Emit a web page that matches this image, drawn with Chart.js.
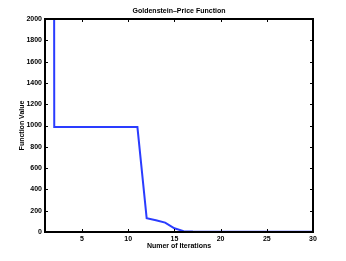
<!DOCTYPE html>
<html>
<head>
<meta charset="utf-8">
<script src="https://cdn.jsdelivr.net/npm/chart.js@4"></script>
<style>
  html, body { margin: 0; padding: 0; background: #fff; }
  #wrap { width: 346px; height: 261px; }
</style>
</head>
<body>
<div id="wrap"><canvas id="FirstChart" width="346" height="261"></canvas></div>
<script>
// data
let iterations = [1, 2, 3, 4, 5, 6, 7, 8, 9, 10, 11, 12, 13, 14, 15, 16, 17, 18, 19, 20, 21, 22, 23, 24, 25, 26, 27, 28, 29, 30];
let values = [100000, 985, 985, 985, 985, 985, 985, 985, 985, 985, 985, 130, 110, 88, 35, 8, 4, 3, 3, 3, 3, 3, 3, 3, 3, 3, 3, 3, 3, 3];
let xTicks = [5, 10, 15, 20, 25, 30];
let yTicks = [0, 200, 400, 600, 800, 1000, 1200, 1400, 1600, 1800, 2000];

let titre = 'Goldenstein\u2013Price Function';
let labelX = 'Numer of Iterations';
let labelY = 'Function Value';

const police = '"Liberation Sans", Arial, Helvetica, sans-serif';

// ticks vers l'intérieur + cadre + titres
const cadre = {
  id: 'cadre',
  afterDraw(chart) {
    const { ctx, chartArea: a, scales } = chart;
    ctx.save();
    ctx.strokeStyle = '#000';
    ctx.lineWidth = 1;
    xTicks.forEach(v => {
      const px = Math.round(scales.x.getPixelForValue(v)) + 0.5;
      ctx.beginPath();
      ctx.moveTo(px, a.bottom); ctx.lineTo(px, a.bottom - 3);
      ctx.moveTo(px, a.top); ctx.lineTo(px, a.top + 3);
      ctx.stroke();
    });
    yTicks.forEach(v => {
      const py = Math.round(scales.y.getPixelForValue(v)) + 0.5;
      ctx.beginPath();
      ctx.moveTo(a.left, py); ctx.lineTo(a.left + 3, py);
      ctx.moveTo(a.right, py); ctx.lineTo(a.right - 3, py);
      ctx.stroke();
    });
    ctx.lineWidth = 2;
    ctx.strokeRect(a.left, a.top, a.right - a.left, a.bottom - a.top);

    ctx.fillStyle = '#000';
    ctx.font = 'bold 7px ' + police;
    ctx.textAlign = 'center';
    ctx.textBaseline = 'middle';
    const cx = (a.left + a.right) / 2;
    ctx.fillText(titre, cx, 11);
    ctx.fillText(labelX, cx, 246);
    ctx.translate(22, (a.top + a.bottom) / 2);
    ctx.rotate(-Math.PI / 2);
    ctx.fillText(labelY, 0, 0);
    ctx.restore();
  }
};

let FirstChart = document.getElementById('FirstChart').getContext('2d');
let chart = new Chart(FirstChart, {
  type: 'line',
  data: {
    labels: iterations,
    datasets: [{
      data: iterations.map((x, i) => ({ x: x, y: values[i] })),
      borderColor: '#2a3cff',
      borderWidth: 2,
      pointRadius: 0,
      tension: 0,
      fill: false
    }]
  },
  options: {
    responsive: false,
    animation: false,
    layout: { padding: { top: 19, right: 33, left: 0, bottom: 0 } },
    plugins: { legend: { display: false }, title: { display: false }, tooltip: { enabled: false } },
    scales: {
      x: {
        type: 'linear',
        min: 1,
        max: 30,
        afterBuildTicks: s => { s.ticks = xTicks.map(v => ({ value: v })); },
        afterFit: s => { s.height = 29; },
        grid: { display: false, drawTicks: false },
        border: { display: false },
        ticks: { color: '#000', font: { family: police, size: 7, weight: 'bold' }, padding: 3, maxRotation: 0, callback: v => String(v) }
      },
      y: {
        min: 0,
        max: 2000,
        afterBuildTicks: s => { s.ticks = yTicks.map(v => ({ value: v })); },
        afterFit: s => { s.width = 45; },
        grid: { display: false, drawTicks: false },
        border: { display: false },
        ticks: { color: '#000', font: { family: police, size: 7, weight: 'bold' }, padding: 3, callback: v => String(v) }
      }
    }
  },
  plugins: [cadre]
});
</script>
</body>
</html>
